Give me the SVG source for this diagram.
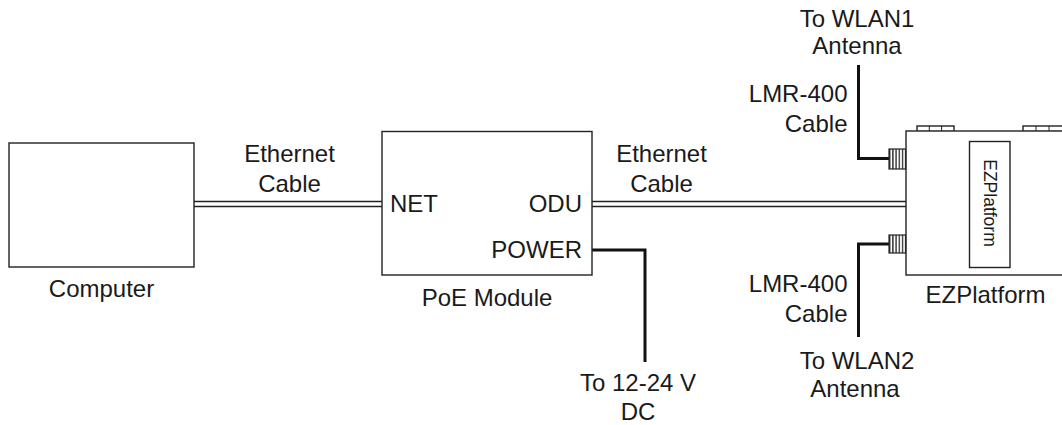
<svg xmlns="http://www.w3.org/2000/svg" width="1062" height="425" viewBox="0 0 1062 425">
<style>
.box{fill:#fff;stroke:#222;stroke-width:1.4}
.t{font-family:"Liberation Sans",Arial,sans-serif;font-size:24px;fill:#1a1a1a}
.m{text-anchor:middle}
.e{text-anchor:end}
.eth{fill:none;stroke:#222;stroke-width:1.4}
.cab{fill:none;stroke:#111;stroke-width:3}
.conn{fill:url(#rib);stroke:#222;stroke-width:1.2}
</style>
<defs>
<pattern id="rib" patternUnits="userSpaceOnUse" x="889" y="0" width="3.2" height="4">
<rect width="3.2" height="4" fill="#fff"/>
<rect width="1.4" height="4" fill="#333"/>
</pattern>
</defs>
<rect width="1062" height="425" fill="#fff"/>
<g id="connectors">
<line class="eth" x1="194" y1="201.5" x2="382" y2="201.5"/>
<line class="eth" x1="194" y1="206.5" x2="382" y2="206.5"/>
<line class="eth" x1="592" y1="201.5" x2="906" y2="201.5"/>
<line class="eth" x1="592" y1="206.5" x2="906" y2="206.5"/>
<path class="cab" d="M592,250 H645 V362"/>
<path class="cab" d="M858.5,65 V158.5 H889"/>
<path class="cab" d="M889,244 H858.5 V337"/>
<text class="t m" x="289.5" y="162">Ethernet</text>
<text class="t m" x="289.5" y="192">Cable</text>
<text class="t m" x="661.5" y="162">Ethernet</text>
<text class="t m" x="661.5" y="192">Cable</text>
<text class="t m" x="638" y="391">To 12-24 V</text>
<text class="t m" x="638" y="420">DC</text>
<text class="t m" x="857" y="27">To WLAN1</text>
<text class="t m" x="857" y="53.5">Antenna</text>
<text class="t e" x="847.5" y="102">LMR-400</text>
<text class="t e" x="847.5" y="132">Cable</text>
<text class="t e" x="847.5" y="292">LMR-400</text>
<text class="t e" x="847.5" y="322">Cable</text>
<text class="t m" x="857" y="369">To WLAN2</text>
<text class="t m" x="855" y="397">Antenna</text>
</g>
<g id="computer">
<rect class="box" x="9" y="143" width="185" height="124"/>
<text class="t m" x="101.5" y="297">Computer</text>
</g>
<g id="poe">
<rect class="box" x="382" y="131.5" width="210" height="143.5"/>
<text class="t" x="390" y="212">NET</text>
<text class="t e" x="582" y="212">ODU</text>
<text class="t e" x="582" y="258">POWER</text>
<text class="t m" x="487" y="306">PoE Module</text>
</g>
<g id="ezplatform">
<rect class="box" x="917" y="126" width="37" height="5.5"/>
<line x1="929.3" y1="126" x2="929.3" y2="131.5" stroke="#222" stroke-width="1"/>
<line x1="941.6" y1="126" x2="941.6" y2="131.5" stroke="#222" stroke-width="1"/>
<rect class="box" x="1023" y="126" width="45" height="5.5"/>
<line x1="1036" y1="126" x2="1036" y2="131.5" stroke="#222" stroke-width="1"/>
<line x1="1049" y1="126" x2="1049" y2="131.5" stroke="#222" stroke-width="1"/>
<rect class="box" x="906" y="131" width="170" height="144"/>
<rect class="box" x="969.5" y="141.5" width="40.5" height="126"/>
<text class="t m" x="0" y="0" style="font-size:17.5px" transform="translate(984,203) rotate(90)">EZPlatform</text>
<rect class="conn" x="889" y="149" width="16.5" height="20"/>
<rect class="conn" x="889" y="235" width="16.5" height="18"/>
<text class="t m" x="985.5" y="303">EZPlatform</text>
</g>
</svg>
